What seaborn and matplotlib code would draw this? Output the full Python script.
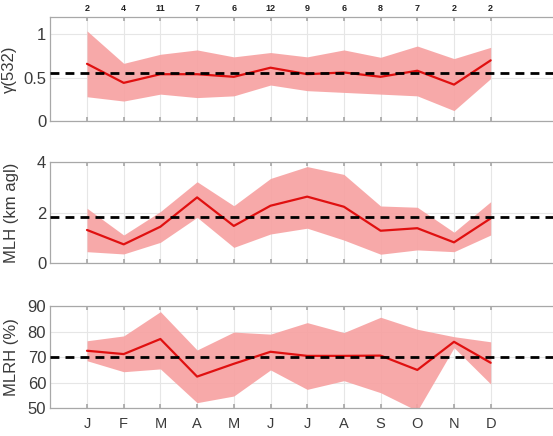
import matplotlib
matplotlib.use("Agg")
import matplotlib.pyplot as plt
import seaborn as sns
import pandas as pd
import numpy as np

months = ["J", "F", "M", "A", "M", "J", "J", "A", "S", "O", "N", "D"]
counts = [2, 4, 11, 7, 6, 12, 9, 6, 8, 7, 2, 2]

gamma_mean = [0.66, 0.44, 0.54, 0.54, 0.51, 0.615, 0.54, 0.56, 0.51, 0.58, 0.42, 0.70]
gamma_up = [1.04, 0.665, 0.77, 0.82, 0.74, 0.79, 0.74, 0.82, 0.735, 0.865, 0.72, 0.85]
gamma_lo = [0.28, 0.23, 0.31, 0.27, 0.29, 0.415, 0.35, 0.33, 0.31, 0.29, 0.12, 0.49]
gamma_ref = 0.55

mlh_mean = [1.32, 0.75, 1.45, 2.61, 1.48, 2.28, 2.64, 2.24, 1.29, 1.39, 0.83, 1.78]
mlh_up = [2.18, 1.12, 2.05, 3.23, 2.28, 3.36, 3.83, 3.52, 2.27, 2.22, 1.23, 2.44]
mlh_lo = [0.46, 0.37, 0.83, 1.82, 0.63, 1.16, 1.39, 0.92, 0.36, 0.53, 0.46, 1.12]
mlh_ref = 1.84

rh_mean = [72.5, 71.2, 77.1, 62.4, 67.4, 72.1, 70.5, 70.5, 70.6, 65.0, 76.0, 67.8]
rh_up = [76.4, 78.3, 87.8, 72.8, 79.8, 79.0, 83.5, 79.6, 85.6, 80.9, 78.0, 76.0]
rh_lo = [68.6, 64.3, 65.4, 52.2, 54.8, 65.0, 57.4, 60.8, 56.1, 49.0, 73.7, 59.5]
rh_ref = 70.0

sns.set_theme(style="white")
plt.rcParams['font.family'] = ['Liberation Sans', 'DejaVu Sans']

W, H = 553, 436
fig = plt.figure(figsize=(W / 100, H / 100), dpi=100)

x = np.arange(1, 13)
left = 50.3 / W
right_px = 50.3 + 14 * 36.7
width = (right_px - 50.3) / W

panels = [
    dict(top=17, bot=121, mean=gamma_mean, up=gamma_up, lo=gamma_lo, ref=gamma_ref,
         ylim=(0, 1.2), yticks=[0, 0.5, 1], yticklabels=["0", "0.5", "1"], ylabel="γ(532)"),
    dict(top=162.3, bot=263.3, mean=mlh_mean, up=mlh_up, lo=mlh_lo, ref=mlh_ref,
         ylim=(0, 4), yticks=[0, 2, 4], yticklabels=["0", "2", "4"], ylabel="MLH (km agl)"),
    dict(top=306, bot=408.3, mean=rh_mean, up=rh_up, lo=rh_lo, ref=rh_ref,
         ylim=(50, 90), yticks=[50, 60, 70, 80, 90], yticklabels=["50", "60", "70", "80", "90"],
         ylabel="MLRH (%)"),
]

spine_col = "#a8a8a8"
text_col = "#3a3a3a"

for i, p in enumerate(panels):
    ax = fig.add_axes([left, 1 - p["bot"] / H, width, (p["bot"] - p["top"]) / H])
    df = pd.DataFrame({"month": x, "mean": p["mean"]})
    ax.fill_between(x, p["lo"], p["up"], color="#f7a0a0", alpha=0.9, linewidth=0, zorder=1)
    sns.lineplot(data=df, x="month", y="mean", ax=ax, color="#e01010", linewidth=1.6, zorder=3)
    ax.axhline(p["ref"], color="black", linestyle=(0, (3.2, 2.2)), linewidth=2.0, zorder=4)
    ax.set_xlim(0, 14)
    ax.set_ylim(*p["ylim"])
    ax.set_xticks(x)
    ax.set_yticks(p["yticks"])
    ax.set_yticklabels(p["yticklabels"])
    ax.grid(True, color="#e6e6e6", linewidth=0.8, zorder=0)
    ax.set_axisbelow(True)
    for s in ax.spines.values():
        s.set_color(spine_col)
        s.set_linewidth(0.9)
    ax.tick_params(axis="x", direction="in", length=3, color=spine_col, top=True, bottom=True,
                   labelsize=10.5, labelcolor=text_col, pad=6)
    ax.tick_params(axis="y", length=0, labelsize=12, labelcolor=text_col, pad=3)
    if i == 2:
        ax.set_xticklabels(months)
    else:
        ax.set_xticklabels([])
    ax.set_xlabel("")
    ax.set_ylabel(p["ylabel"], fontsize=12, color=text_col, labelpad=2)
    ax.yaxis.set_label_coords(-0.06 if i else -0.065, 0.5)
    if i == 0:
        sec = ax.secondary_xaxis("top")
        sec.set_xticks(x)
        sec.set_xticklabels([str(c) for c in counts], fontsize=6.5, fontweight="bold", color="#222222")
        sec.tick_params(length=0, pad=3)
        sec.spines["top"].set_visible(False)

fig.savefig("out.png", dpi=100)
